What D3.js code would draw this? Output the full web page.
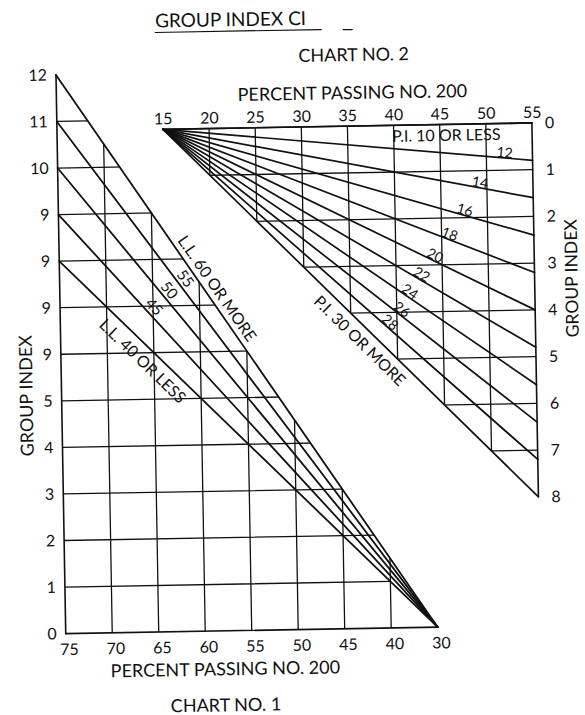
<!DOCTYPE html>
<html>
<head>
<meta charset="utf-8">
<script src="https://cdn.jsdelivr.net/npm/d3@7"></script>
<style>
body { margin: 0; background: #fff; }
svg { display: block; font-family: Lato, "Open Sans", sans-serif; }
</style>
</head>
<body>
<div id="chart"></div>
<script>
// chart no. 1 : percent passing (bottom) vs group index (left)
let passing1 = [75, 70, 65, 60, 55, 50, 45, 40, 35];
let passing1Labels = ["75", "70", "65", "60", "55", "50", "45", "40", "30"];
let index1 = [0, 1, 2, 3, 4, 5, 6, 7, 8, 9, 10, 11, 12];
let index1Labels = ["0", "1", "2", "3", "4", "5", "9", "9", "9", "9", "10", "11", "12"];
let liquidLimits = [60, 55, 50, 45, 40];
let llIndexAt75 = [12, 11, 10, 9, 8];
let llLabels = ["L.L. 60 OR MORE", "55", "50", "45", "L.L. 40 OR LESS"];

// chart no. 2 : percent passing (top) vs group index (right)
let passing2 = [15, 20, 25, 30, 35, 40, 45, 50, 55];
let index2 = [0, 1, 2, 3, 4, 5, 6, 7, 8];
let plasticity = [10, 12, 14, 16, 18, 20, 22, 24, 26, 28, 30];
let piIndexAt55 = [0, 0.8, 1.6, 2.4, 3.2, 4.0, 4.8, 5.6, 6.4, 7.2, 8];
let piLabels = ["P.I. 10 OR LESS", "12", "14", "16", "18", "20", "22", "24", "26", "28", "P.I. 30 OR MORE"];

// where the line labels sit (percent passing of the label centre, offset off the line)
let llLabelAt = [58.0, 61.4, 63.15, 64.8, 66.15];
let llLabelOff = [-12, -9, -9, -9, 13];
let piLabelAt = [45.7, 52.0, 49.3, 47.6, 45.9, 44.3, 42.8, 41.5, 40.6, 39.3, 36.0];
let piLabelOff = [10, -6, -6, -6, -6, -6, -6, -6, -6, -6, 12.5];

let W = 585, H = 715;
let ink = '#111';

let svg = d3.select('#chart').append('svg')
    .attr('width', W)
    .attr('height', H);
svg.append('rect').attr('width', W).attr('height', H).attr('fill', '#fff');

// the scan is a little crooked
let root = svg.append('g').attr('transform', 'rotate(-1,300,360)');

let x1 = d3.scaleLinear().domain([75, 35]).range([61, 433]);
let y1 = d3.scaleLinear().domain([0, 12]).range([629.5, 70.7]);
let x2 = d3.scaleLinear().domain([15, 55]).range([167, 536]);
let y2 = d3.scaleLinear().domain([0, 8]).range([127, 501]);

let defs = svg.append('defs');
defs.append('clipPath').attr('id', 'clip1')
    .append('polygon')
    .attr('points', [[x1(75), y1(0)], [x1(35), y1(0)], [x1(75), y1(12)]].join(' '));
defs.append('clipPath').attr('id', 'clip2')
    .append('polygon')
    .attr('points', [[x2(15), y2(0)], [x2(55), y2(0)], [x2(55), y2(8)]].join(' '));

function seg(g, a, b, w) {
    g.append('line')
        .attr('x1', a[0]).attr('y1', a[1])
        .attr('x2', b[0]).attr('y2', b[1])
        .attr('stroke', ink)
        .attr('stroke-width', w)
        .attr('stroke-linecap', 'round');
}

// label centred at x = cx, sitting `off` px across the line p1-p2
function lineLabel(g, p1, p2, cx, off, text, size) {
    let rad = Math.atan2(p2[1] - p1[1], p2[0] - p1[0]);
    let px = cx + off * Math.sin(rad);
    let t = (px - p1[0]) / (p2[0] - p1[0]);
    let py = p1[1] + t * (p2[1] - p1[1]);
    g.append('text')
        .attr('transform', 'translate(' + px + ',' + py + ') rotate(' + (rad * 180 / Math.PI) + ')')
        .attr('y', off)
        .attr('text-anchor', 'middle')
        .attr('dominant-baseline', 'central')
        .attr('font-size', size)
        .attr('fill', ink)
        .text(text);
}

// ---------- chart 1 ----------
let c1 = root.append('g');
let grid1 = c1.append('g').attr('clip-path', 'url(#clip1)');
index1.slice(1, 12).forEach(function (v) {
    seg(grid1, [x1(75), y1(v)], [x1(40), y1(v)], 1.3);
});
passing1.slice(1, 8).forEach(function (p) {
    seg(grid1, [x1(p), y1(0)], [x1(p), y1(12)], 1.3);
});
seg(c1, [x1(75), y1(0)], [x1(75), y1(12)], 1.6);
seg(c1, [x1(75), y1(0)], [x1(35), y1(0)], 1.6);

liquidLimits.forEach(function (ll, i) {
    let a = [x1(75), y1(llIndexAt75[i])];
    let b = [x1(35), y1(0)];
    seg(c1, a, b, 1.8);
    lineLabel(c1, a, b, x1(llLabelAt[i]), llLabelOff[i], llLabels[i], i == 0 || i == 4 ? 16 : 15);
});

let ax1 = c1.append('g')
    .attr('transform', 'translate(0,' + y1(0) + ')')
    .call(d3.axisBottom(x1).tickValues(passing1).tickFormat(function (d, i) { return passing1Labels[i]; }).tickSize(0).tickPadding(10));
let ay1 = c1.append('g')
    .attr('transform', 'translate(' + x1(75) + ',0)')
    .call(d3.axisLeft(y1).tickValues(index1).tickFormat(function (d, i) { return index1Labels[i]; }).tickSize(0).tickPadding(9));
ax1.selectAll('text').attr('dx', 3);

// ---------- chart 2 ----------
let c2 = root.append('g');
let grid2 = c2.append('g').attr('clip-path', 'url(#clip2)');
passing2.slice(1, 8).forEach(function (p) {
    seg(grid2, [x2(p), y2(0)], [x2(p), y2(8)], 1.3);
});
index2.slice(1, 8).forEach(function (v) {
    seg(grid2, [x2(15), y2(v)], [x2(55), y2(v)], 1.3);
});
seg(c2, [x2(15), y2(0)], [x2(55), y2(0)], 1.6);
seg(c2, [x2(55), y2(0)], [x2(55), y2(8)], 1.6);

plasticity.forEach(function (pi, i) {
    let a = [x2(15), y2(0)];
    let b = [x2(55), y2(piIndexAt55[i])];
    seg(c2, a, b, 1.7);
    lineLabel(c2, a, b, x2(piLabelAt[i]), piLabelOff[i], piLabels[i], i == 0 || i == 10 ? 16 : 14);
});

let ax2 = c2.append('g')
    .attr('transform', 'translate(0,' + y2(0) + ')')
    .call(d3.axisTop(x2).tickValues(passing2).tickFormat(d3.format('d')).tickSize(0).tickPadding(5));
let ay2 = c2.append('g')
    .attr('transform', 'translate(' + x2(55) + ',0)')
    .call(d3.axisRight(y2).tickValues(index2).tickFormat(d3.format('d')).tickSize(0).tickPadding(13));

[ax1, ay1, ax2, ay2].forEach(function (a) {
    a.select('.domain').remove();
    a.attr('font-size', 16).attr('font-family', null);
    a.selectAll('text').attr('fill', ink);
});

// ---------- titles ----------
function label(x, y, text, size, anchor, rot) {
    let t = root.append('text')
        .attr('x', x).attr('y', y)
        .attr('font-size', size)
        .attr('text-anchor', anchor || 'middle')
        .attr('fill', ink)
        .text(text);
    if (rot) t.attr('transform', 'rotate(' + rot + ',' + x + ',' + y + ')');
    return t;
}

let title = label(161, 25, 'GROUP INDEX CI', 19, 'start');
let tw = title.node().getComputedTextLength();
seg(root, [161, 30], [161 + tw + 15, 30], 1.2);
seg(root, [349, 30.5], [358, 30.5], 1.2);

label(359, 62, 'CHART NO. 2', 18);
label(357, 100, 'PERCENT PASSING NO. 200', 18);
label(579, 283, 'GROUP INDEX', 17.5, 'middle', -90);

label(32, 391, 'GROUP INDEX', 18, 'middle', -90);
label(220, 674, 'PERCENT PASSING NO. 200', 18);
label(220, 710, 'CHART NO. 1', 18);
</script>
</body>
</html>
